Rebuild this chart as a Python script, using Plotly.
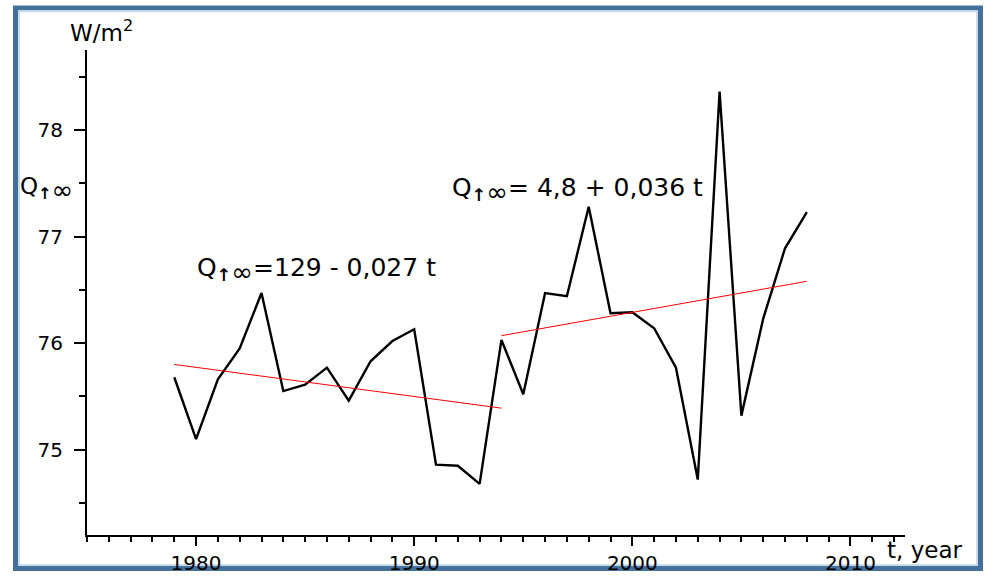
import plotly.graph_objects as go

years = list(range(1979, 2009))
q_values = [75.68, 75.10, 75.66, 75.95, 76.47, 75.55, 75.61, 75.77, 75.46, 75.83,
            76.02, 76.13, 74.86, 74.85, 74.68, 76.03, 75.52, 76.47, 76.44, 77.28,
            76.28, 76.29, 76.14, 75.77, 74.72, 78.36, 75.32, 76.23, 76.89, 77.23]

trend1_years = [1979, 1994]
trend1_values = [75.80, 75.39]
trend2_years = [1994, 2008]
trend2_values = [76.07, 76.58]

SUB = "<sub><b>↑</b><span style='font-size:26px'>∞</span></sub>"
formula1 = "Q" + SUB + "=129 - 0,027 t"
formula2 = "Q" + SUB + "= 4,8 + 0,036 t"

FONT = "DejaVu Sans"

fig = go.Figure()
fig.add_trace(go.Scatter(x=years, y=q_values, mode="lines",
                         line=dict(color="black", width=2.4), showlegend=False))
fig.add_trace(go.Scatter(x=trend1_years, y=trend1_values, mode="lines",
                         line=dict(color="#ff0000", width=1), showlegend=False))
fig.add_trace(go.Scatter(x=trend2_years, y=trend2_values, mode="lines",
                         line=dict(color="#ff0000", width=1), showlegend=False))

W, H = 985, 587
L, R, T, B = 87, 80, 50, 36
pw, ph = W - L - R, H - T - B

def px(x):
    return (x - L) / pw

def py(y):
    return (H - B - y) / ph

fig.update_layout(
    width=W, height=H, autosize=False,
    margin=dict(l=L, r=R, t=T, b=B),
    paper_bgcolor="white", plot_bgcolor="white",
    font=dict(family=FONT, color="black", size=20),
    xaxis=dict(range=[1975, 2012.5], tick0=1980, dtick=10, ticks="outside",
               ticklen=9, tickwidth=2, tickcolor="black", showline=True,
               linecolor="black", linewidth=2, showgrid=False, zeroline=False,
               ticklabelstandoff=0,
               minor=dict(dtick=1, tick0=1975, ticks="outside", ticklen=5,
                          tickwidth=1.5, tickcolor="black", showgrid=False),
               tickfont=dict(size=20, family=FONT)),
    yaxis=dict(range=[74.2, 78.75], tick0=75, dtick=1, ticks="outside",
               ticklen=11, tickwidth=2, tickcolor="black", showline=True,
               linecolor="black", linewidth=2, showgrid=False, zeroline=False,
               ticklabelstandoff=7,
               minor=dict(dtick=0.5, tick0=74.5, ticks="outside", ticklen=6,
                          tickwidth=1.5, tickcolor="black", showgrid=False),
               tickfont=dict(size=20, family=FONT)),
)

annotations = [
    dict(text="W/m<sup>2</sup>", x=px(68), y=py(30), xanchor="left", yanchor="middle",
         font=dict(size=23, family=FONT)),
    dict(text="Q" + SUB, x=px(18), y=py(194), xanchor="left", yanchor="middle",
         font=dict(size=23, family=FONT)),
    dict(text="t, year", x=px(885), y=py(567), xanchor="left", yanchor="middle",
         font=dict(size=23, family=FONT)),
    dict(text=formula1, x=px(195), y=py(277), xanchor="left", yanchor="middle",
         font=dict(size=25, family=FONT)),
    dict(text=formula2, x=px(450), y=py(195), xanchor="left", yanchor="middle",
         font=dict(size=25, family=FONT)),
]
for a in annotations:
    a.update(xref="paper", yref="paper", showarrow=False)
fig.update_layout(annotations=annotations)

fig.update_layout(shapes=[
    dict(type="rect", xref="paper", yref="paper",
         x0=px(15.5), x1=px(980.5), y0=py(585.5), y1=py(6.5),
         line=dict(color="#44709c", width=5), layer="below"),
    dict(type="rect", xref="paper", yref="paper",
         x0=px(19), x1=px(977), y0=py(582), y1=py(10),
         line=dict(color="#cddcec", width=2), layer="below"),
])

fig.write_html("out.html",
               config={"responsive": False, "displayModeBar": False},
               post_script="document.body.style.margin='0px';document.body.style.overflow='hidden';")
